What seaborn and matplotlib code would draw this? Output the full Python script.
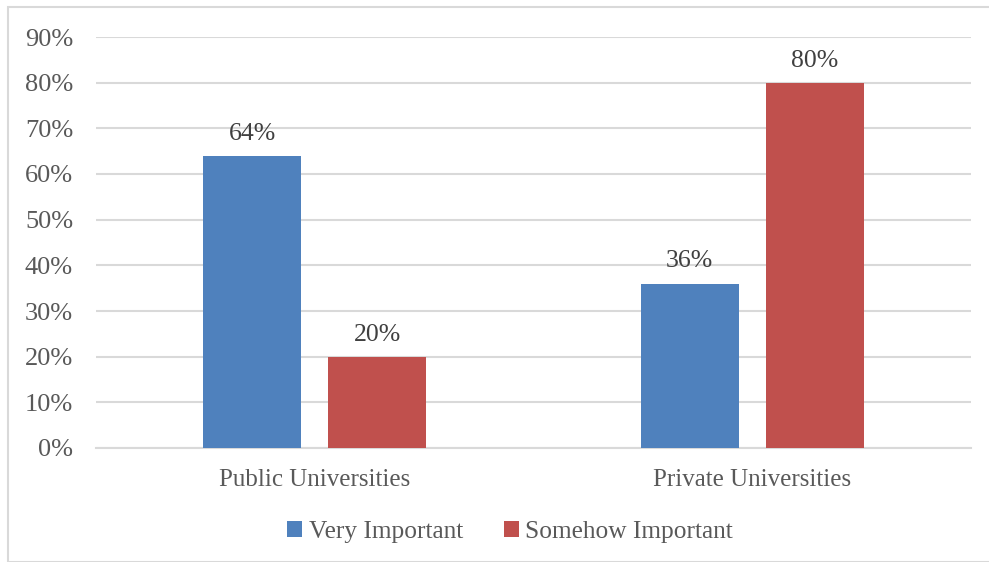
import matplotlib
matplotlib.use("Agg")
import matplotlib.pyplot as plt
import seaborn as sns
import pandas as pd
from matplotlib.patches import Rectangle, Patch

categories = ["Public Universities", "Private Universities"]
series_names = ["Very Important", "Somehow Important"]
very_important = [0.64, 0.36]
somehow_important = [0.20, 0.80]
colors = ["#4F81BD", "#C0504D"]
yticks = [0, 0.1, 0.2, 0.3, 0.4, 0.5, 0.6, 0.7, 0.8, 0.9]

df = pd.DataFrame({
    "category": categories * 2,
    "series": [series_names[0]] * 2 + [series_names[1]] * 2,
    "value": very_important + somehow_important,
})

sns.set_theme(style="white")
plt.rcParams["font.family"] = ["Liberation Serif", "DejaVu Serif"]

fig = plt.figure(figsize=(9.89, 5.62), dpi=100)
ax = fig.add_axes([96/989, 1 - 448/562, (971-96)/989, (448-37)/562])

sns.barplot(data=df, x="category", y="value", hue="series", order=categories,
            hue_order=series_names, palette=colors, width=0.572, gap=0.217,
            saturation=1, ax=ax, legend=False, zorder=3, linewidth=0)

ax.set_xlim(-0.5, 1.5)
ax.set_ylim(0, 0.9)
ax.set_yticks(yticks)
ax.set_yticklabels([f"{int(round(t*100))}%" for t in yticks])
ax.yaxis.grid(True, color="#D9D9D9", linewidth=1.5, zorder=0)
ax.set_axisbelow(True)
for s in ["left", "right", "top"]:
    ax.spines[s].set_visible(False)
ax.spines["bottom"].set_color("#D9D9D9")
ax.spines["bottom"].set_linewidth(1.5)
ax.set_xlabel("")
ax.set_ylabel("")
ax.tick_params(axis="y", length=0, labelsize=19, colors="#595959", pad=16.5)
ax.tick_params(axis="x", length=0, labelsize=18, colors="#595959", pad=15)

for cont in ax.containers:
    ax.bar_label(cont, labels=[f"{int(round(v*100))}%" for v in cont.datavalues],
                 padding=8, fontsize=18.5, color="#404040")

handles = [Patch(facecolor=c, edgecolor="none") for c in colors]
fig.legend(handles, series_names, loc="center", bbox_to_anchor=(510/989, 1 - 532/562),
           ncol=2, frameon=False, fontsize=18.3, labelcolor="#595959",
           handlelength=0.6, handleheight=0.6, handletextpad=0.25, columnspacing=1.6)

fig.patches.append(Rectangle((8/989, 0), 1.0, 1 - 7/562, transform=fig.transFigure,
                             fill=False, edgecolor="#D9D9D9", linewidth=1.5))

fig.savefig("out.png", dpi=100)
